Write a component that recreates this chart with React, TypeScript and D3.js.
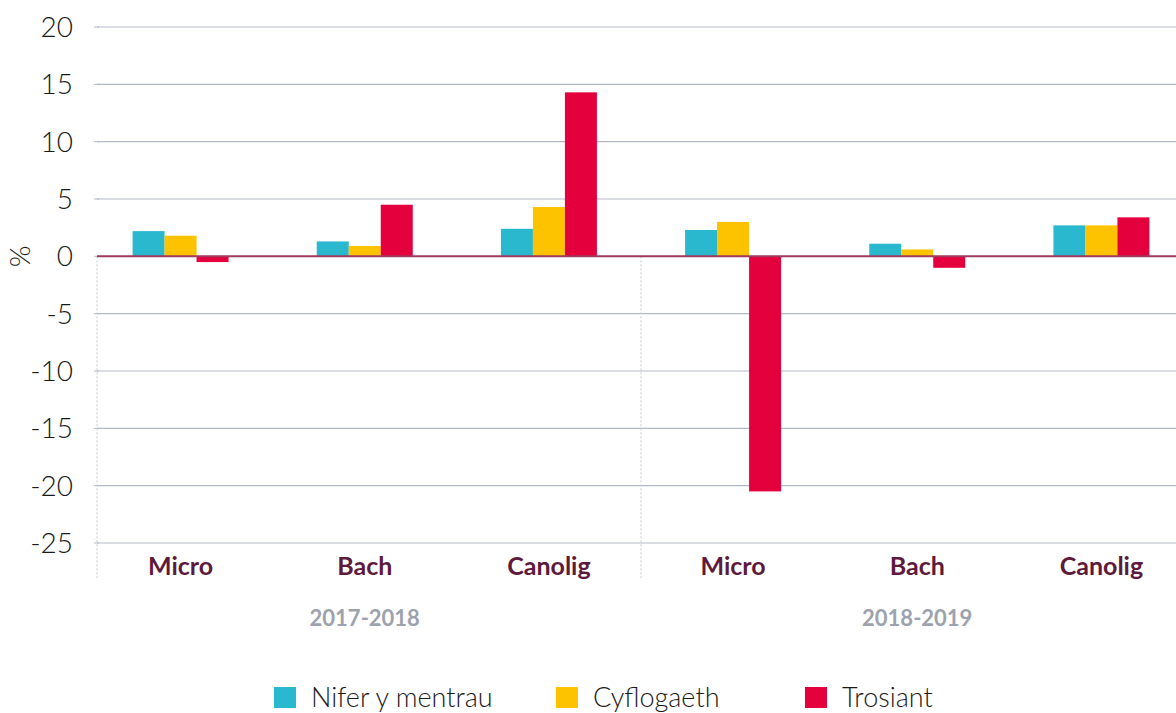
import React, { useEffect, useRef } from 'react';
import * as d3 from 'd3';

// 범주와 시리즈
const periods = ['2017-2018', '2018-2019'];
const sizes = ['Micro', 'Bach', 'Canolig'];
const seriesNames = ['Nifer y mentrau', 'Cyflogaeth', 'Trosiant'];
const seriesColors = ['#29b8ce', '#fdc300', '#e4003d'];

// 값 (%), periods x sizes 순서
const niferValues = [2.2, 1.3, 2.4, 2.3, 1.1, 2.7];
const cyflogaethValues = [1.8, 0.9, 4.3, 3.0, 0.6, 2.7];
const trosiantValues = [-0.5, 4.5, 14.3, -20.5, -1.0, 3.4];

const yTicks = [20, 15, 10, 5, 0, -5, -10, -15, -20, -25];

const W = 1176;
const H = 713;

const App: React.FC = () => {
  const ref = useRef<SVGSVGElement>(null);

  useEffect(() => {
    const svg = d3.select(ref.current);
    svg.selectAll('*').remove();

    const plotLeft = 97;
    const plotRight = 1176;

    const keys = periods.flatMap((p) => sizes.map((s) => `${p}|${s}`));
    const allValues = [niferValues, cyflogaethValues, trosiantValues];

    const y = d3.scaleLinear().domain([-25, 20]).range([543, 27]);
    const x0 = d3.scaleBand<string>().domain(keys).range([88.5, 1193.5]);
    const x1 = d3.scaleBand<string>().domain(seriesNames).range([0, 96]);

    const font = 'Lato, "Open Sans", sans-serif';

    // 격자선
    svg
      .append('g')
      .selectAll('line')
      .data(yTicks.filter((t) => t !== 0))
      .join('line')
      .attr('x1', plotLeft)
      .attr('x2', plotRight)
      .attr('y1', (d) => y(d))
      .attr('y2', (d) => y(d))
      .attr('stroke', '#b4b9c6')
      .attr('stroke-width', 1.2);

    // 눈금 표시
    svg
      .append('g')
      .selectAll('line')
      .data(yTicks)
      .join('line')
      .attr('x1', 94)
      .attr('x2', 99)
      .attr('y1', (d) => y(d))
      .attr('y2', (d) => y(d))
      .attr('stroke', '#b4b9c6')
      .attr('stroke-width', 1);

    // y 눈금 라벨
    svg
      .append('g')
      .selectAll('text')
      .data(yTicks)
      .join('text')
      .attr('x', 73)
      .attr('y', (d) => y(d) + 10)
      .attr('text-anchor', 'end')
      .attr('font-family', font)
      .attr('font-weight', 300)
      .attr('font-size', 28)
      .attr('fill', '#1a1a1a')
      .text((d) => String(d));

    svg
      .append('text')
      .attr('transform', `translate(30,${y(0)}) rotate(-90)`)
      .attr('text-anchor', 'middle')
      .attr('font-family', font)
      .attr('font-weight', 300)
      .attr('font-size', 28)
      .attr('fill', '#1a1a1a')
      .text('%');

    // 구분 점선
    const seps = [plotLeft, (x0(keys[2])! + x0.bandwidth() + x0(keys[3])!) / 2];
    svg
      .append('g')
      .selectAll('line')
      .data(seps)
      .join('line')
      .attr('x1', (d) => d)
      .attr('x2', (d) => d)
      .attr('y1', y(0))
      .attr('y2', 578)
      .attr('stroke', '#c6cad3')
      .attr('stroke-width', 1)
      .attr('stroke-dasharray', '2,2');

    // 막대
    seriesNames.forEach((name, si) => {
      svg
        .append('g')
        .selectAll('rect')
        .data(allValues[si])
        .join('rect')
        .attr('x', (_, i) => x0(keys[i])! + x0.bandwidth() / 2 - 48 + x1(name)!)
        .attr('width', x1.bandwidth())
        .attr('y', (d) => y(Math.max(0, d)))
        .attr('height', (d) => Math.abs(y(d) - y(0)))
        .attr('fill', seriesColors[si]);
    });

    // 0 선
    svg
      .append('line')
      .attr('x1', plotLeft)
      .attr('x2', plotRight)
      .attr('y1', y(0))
      .attr('y2', y(0))
      .attr('stroke', '#a1385d')
      .attr('stroke-width', 2);

    // 범주 라벨
    svg
      .append('g')
      .selectAll('text')
      .data(keys)
      .join('text')
      .attr('x', (d) => x0(d)! + x0.bandwidth() / 2)
      .attr('y', 575)
      .attr('text-anchor', 'middle')
      .attr('font-family', font)
      .attr('font-weight', 700)
      .attr('font-size', 25)
      .attr('fill', '#5e1a3c')
      .text((d) => d.split('|')[1]);

    // 기간 라벨 (각 기간 가운데 범주 아래)
    svg
      .append('g')
      .selectAll('text')
      .data(periods)
      .join('text')
      .attr('x', (p) => x0(`${p}|${sizes[1]}`)! + x0.bandwidth() / 2)
      .attr('y', 626)
      .attr('text-anchor', 'middle')
      .attr('font-family', font)
      .attr('font-weight', 700)
      .attr('font-size', 22)
      .attr('fill', '#9ca2ae')
      .text((d) => d);

    // 범례
    const legendX = [274, 556, 805];
    const legend = svg
      .append('g')
      .selectAll('g')
      .data(seriesNames)
      .join('g')
      .attr('transform', (_, i) => `translate(${legendX[i]},687)`);
    legend
      .append('rect')
      .attr('width', 22)
      .attr('height', 21)
      .attr('fill', (_, i) => seriesColors[i]);
    legend
      .append('text')
      .attr('x', 37)
      .attr('y', 20)
      .attr('font-family', font)
      .attr('font-weight', 300)
      .attr('font-size', 27)
      .attr('fill', '#1a1a1a')
      .text((d) => d);
  }, []);

  return <svg ref={ref} width={W} height={H} style={{ position: 'absolute', left: 0, top: 0, background: '#fff' }} />;
};

export default App;
